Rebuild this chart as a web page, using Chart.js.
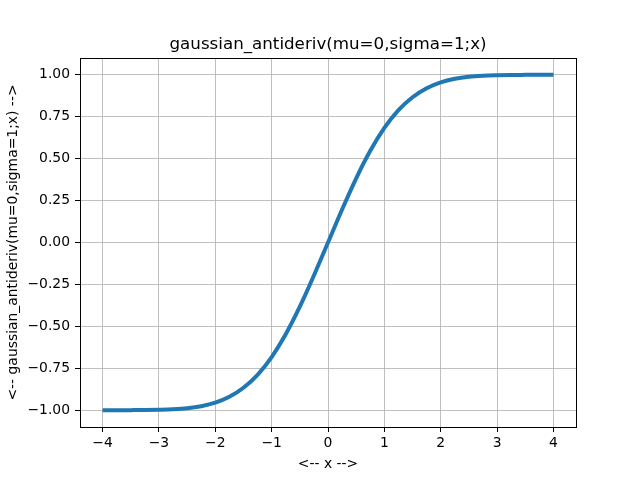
<!DOCTYPE html>
<html>
<head>
<meta charset="utf-8">
<script src="https://cdn.jsdelivr.net/npm/chart.js@4"></script>
<style>
  html, body { margin: 0; padding: 0; background: #fff; }
  #wrap { width: 640px; height: 480px; }
</style>
</head>
<body>
<div id="wrap"><canvas id="chart" width="640" height="480"></canvas></div>
<script>
// values
const xs = [-4, -3.75, -3.5, -3.25, -3, -2.75, -2.5, -2.25, -2, -1.75, -1.5, -1.25, -1, -0.75, -0.5, -0.25,
            0, 0.25, 0.5, 0.75, 1, 1.25, 1.5, 1.75, 2, 2.25, 2.5, 2.75, 3, 3.25, 3.5, 3.75, 4];
const ys = [-1.0, -1.0, -0.9995, -0.9988, -0.997, -0.994, -0.988, -0.976, -0.955, -0.920, -0.866, -0.789, -0.683, -0.547, -0.383, -0.197,
            0, 0.197, 0.383, 0.547, 0.683, 0.789, 0.866, 0.920, 0.955, 0.976, 0.988, 0.994, 0.997, 0.9988, 0.9995, 1.0, 1.0];
const xTicks = [-4, -3, -2, -1, 0, 1, 2, 3, 4];
const yTicks = [-1.0, -0.75, -0.5, -0.25, 0, 0.25, 0.5, 0.75, 1.0];
const titleText = 'gaussian_antideriv(mu=0,sigma=1;x)';

const FONT = "'DejaVu Sans', sans-serif";
const minus = s => s.replace('-', '\u2212');

// axes frame + title centred over the plot area (matplotlib style)
const frame = {
    id: 'frame',
    afterDraw(chart) {
        const a = chart.chartArea, ctx = chart.ctx;
        ctx.save();
        ctx.strokeStyle = '#000';
        ctx.lineWidth = 1;
        ctx.strokeRect(Math.round(a.left) + 0.5, Math.round(a.top) + 0.5,
                       Math.round(a.right - a.left), Math.round(a.bottom - a.top));
        ctx.fillStyle = '#000';
        ctx.font = "16.7px " + FONT;
        ctx.textAlign = 'center';
        ctx.textBaseline = 'alphabetic';
        ctx.fillText(titleText, (a.left + a.right) / 2, a.top - 9);
        ctx.restore();
    }
};

new Chart(document.getElementById('chart'), {
    type: 'line',
    data: {
        datasets: [{
            data: xs.map((x, i) => ({ x: x, y: ys[i] })),
            borderColor: '#1f77b4',
            borderWidth: 4,
            pointRadius: 0,
            cubicInterpolationMode: 'monotone',
            borderCapStyle: 'butt'
        }]
    },
    options: {
        responsive: false,
        animation: false,
        layout: { padding: { left: 0, right: 64, top: 58, bottom: 0 } },
        plugins: {
            legend: { display: false },
            tooltip: { enabled: false },
            title: { display: false }
        },
        scales: {
            x: {
                type: 'linear',
                min: -4.4,
                max: 4.4,
                afterBuildTicks: s => { s.ticks = xTicks.map(v => ({ value: v })); },
                afterFit: s => { s.height = 53; },
                grid: { color: '#b0b0b0', lineWidth: 0.8, tickColor: '#000', tickLength: 5, tickWidth: 1 },
                border: { display: false },
                ticks: {
                    color: '#000',
                    font: { family: FONT, size: 13.9 },
                    padding: 3,
                    maxRotation: 0,
                    callback: v => minus(String(v))
                },
                title: {
                    display: true,
                    text: '<-- x -->',
                    color: '#000',
                    font: { family: FONT, size: 13.9 },
                    padding: { top: 4, bottom: 7 }
                }
            },
            y: {
                min: -1.1,
                max: 1.1,
                afterBuildTicks: s => { s.ticks = yTicks.map(v => ({ value: v })); },
                afterFit: s => { s.width = 80; },
                grid: { color: '#b0b0b0', lineWidth: 0.8, tickColor: '#000', tickLength: 5, tickWidth: 1 },
                border: { display: false },
                ticks: {
                    color: '#000',
                    font: { family: FONT, size: 13.9 },
                    padding: 5,
                    callback: v => minus(Number(v).toFixed(2))
                },
                title: {
                    display: true,
                    text: '<-- gaussian_antideriv(mu=0,sigma=1;x) -->',
                    color: '#000',
                    font: { family: FONT, size: 13.9 },
                    padding: { top: 5, bottom: 0 }
                }
            }
        }
    },
    plugins: [frame]
});
</script>
</body>
</html>
